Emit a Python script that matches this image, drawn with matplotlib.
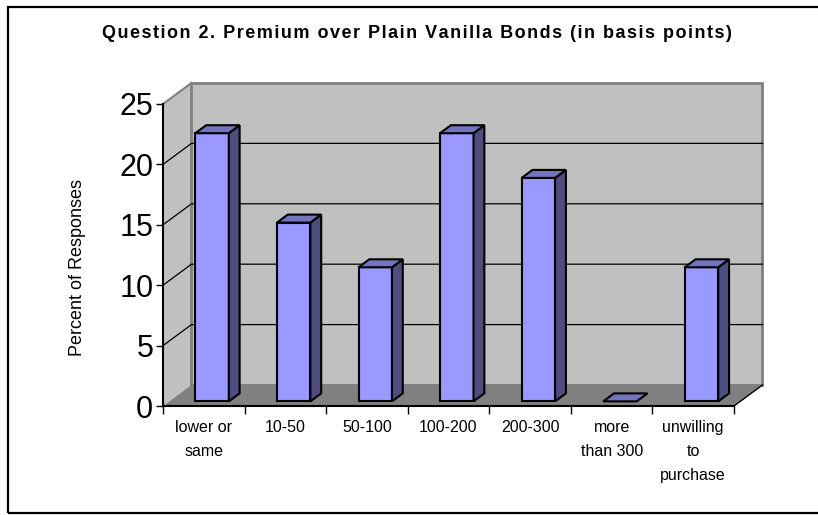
import matplotlib
matplotlib.use("Agg")
import matplotlib.pyplot as plt
from matplotlib.patches import Polygon, Rectangle

plt.rcParams['font.family'] = ['Liberation Sans', 'DejaVu Sans']

# data: share of 27 responses in each premium bracket
categories = ["lower or\nsame", "10-50", "50-100", "100-200", "200-300",
              "more\nthan 300", "unwilling\nto\npurchase"]
percent = [22.2, 14.8, 11.1, 22.2, 18.5, 0.0, 11.1]
yticks = [0, 5, 10, 15, 20, 25]
title = "Question 2. Premium over Plain Vanilla Bonds (in basis points)"

# 3-D look: oblique depth offset in data units
DX, DY = 0.349, 1.74
F0, F1 = 0.22, 0.60
BAR_OFF, BAR_W = 0.32, 0.41

WALL = "#c0c0c0"
FLOOR = "#808080"
EDGE = "#808080"
FRONT = "#9999ff"
SIDE = "#4d4d80"
TOP = "#7373c0"

fig = plt.figure(figsize=(8.18, 5.15), dpi=100)
fig.patches.append(Rectangle((8 / 818, 2 / 515), 1.2, 506 / 515, transform=fig.transFigure,
                             fill=False, edgecolor="black", linewidth=1.6))

ax = fig.add_axes([163 / 818, 109 / 515, 571 / 818, 302 / 515])
n = len(categories)
ymax = yticks[-1]
ax.set_xlim(0, n)
ax.set_ylim(0, ymax)


def poly(pts, fc, ec, lw, z):
    ax.add_patch(Polygon(pts, closed=True, facecolor=fc, edgecolor=ec, linewidth=lw,
                         zorder=z, clip_on=False, joinstyle="miter"))


# walls and floor
poly([(0, 0), (0, ymax), (DX, ymax + DY), (DX, DY)], WALL, "none", 0, 1)
poly([(DX, DY), (n + DX, DY), (n + DX, ymax + DY), (DX, ymax + DY)], WALL, EDGE, 2, 1)
poly([(0, 0), (n, 0), (n + DX, DY), (DX, DY)], FLOOR, "none", 0, 2)
ax.plot([0, DX], [ymax, ymax + DY], color=EDGE, lw=1.5, zorder=2, clip_on=False)
ax.plot([n, n + DX], [0, DY], color="black", lw=1, zorder=2, clip_on=False)

# gridlines on left and back walls
for v in yticks[1:-1]:
    ax.plot([0, DX, n + DX], [v, v + DY, v + DY], color="black", lw=0.9, zorder=1.5,
            clip_on=False)

# bars
dx, dy = (F1 - F0) * DX, (F1 - F0) * DY
for i, v in enumerate(percent):
    x0 = i + BAR_OFF + F0 * DX
    x1 = x0 + BAR_W
    yb = F0 * DY
    if v > 0:
        poly([(x0, yb), (x1, yb), (x1, yb + v), (x0, yb + v)], FRONT, "black", 1.5, 3)
        poly([(x1, yb), (x1 + dx, yb + dy), (x1 + dx, yb + v + dy), (x1, yb + v)],
             SIDE, "black", 1.5, 3)
    poly([(x0, yb + v), (x1, yb + v), (x1 + dx, yb + v + dy), (x0 + dx, yb + v + dy)],
         TOP, "black", 1.5, 3)

# axes
for s in ["top", "right"]:
    ax.spines[s].set_visible(False)
for s in ["left", "bottom"]:
    ax.spines[s].set_linewidth(1.5)
    ax.spines[s].set_zorder(4)
ax.set_facecolor("none")

ax.set_yticks(yticks)
ax.tick_params(axis="y", direction="out", length=5, width=1, labelsize=22, pad=2)
ax.set_xticks(range(n + 1))
ax.set_xticklabels([])
ax.set_xticks([i + 0.5 for i in range(n)], minor=True)
ax.set_xticklabels(categories, minor=True, fontsize=11.5, linespacing=1.75, va="top")
ax.tick_params(axis="x", which="major", direction="out", length=6, width=1)
ax.tick_params(axis="x", which="minor", length=0, pad=10)

fig.text(77 / 818, 1 - 268 / 515, "Percent of Responses", rotation=90, fontsize=13,
         ha="center", va="center")
# the original title is drawn with wide letter spacing
spaced = "\u200a".join(title)
fig.text(417 / 818, 1 - 33 / 515, spaced, fontsize=13, fontweight="bold",
         ha="center", va="center")

fig.savefig("out.png", dpi=100)
